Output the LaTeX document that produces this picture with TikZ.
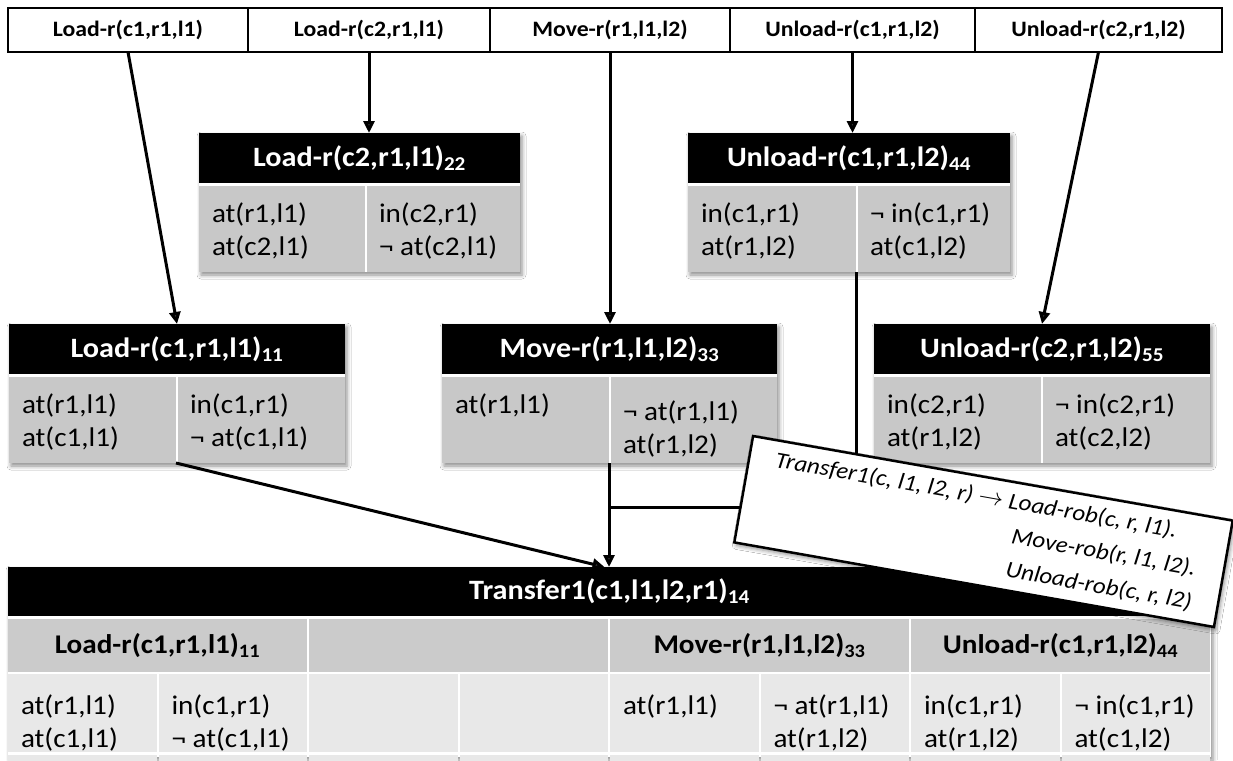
\documentclass[tikz,border=0pt]{standalone}
\usepackage{fontspec}
\setmainfont{Carlito}[FakeStretch=1.08]
\usetikzlibrary{arrows.meta,shadows.blur,calc}
\definecolor{cellgray}{RGB}{200,200,200}
\definecolor{subgray}{RGB}{203,203,203}
\definecolor{rowgray}{RGB}{232,232,232}
\newcommand\cellt[1]{\begin{tabular}[t]{@{}l@{}}#1\end{tabular}}
\tikzset{
  every node/.style={inner sep=0pt, outer sep=0pt},
  shad/.style={blur shadow={shadow xshift=2pt, shadow yshift=-3pt, shadow blur radius=4pt, shadow opacity=45}},
  topcell/.style={anchor=north west, draw=black, line width=1.8pt, fill=white, minimum height=44pt, font=\fontsize{22}{26}\selectfont\bfseries},
  hdr/.style={anchor=north west, fill=black, text=white, font=\fontsize{28}{34}\selectfont\bfseries},
  cellbox/.style={anchor=north west, fill=cellgray},
  subcell/.style={anchor=north west, fill=subgray, minimum height=53pt, font=\fontsize{27}{33}\selectfont\bfseries},
  rowcell/.style={anchor=north west, fill=rowgray, minimum height=78pt, minimum width=148.5pt},
  stripcell/.style={anchor=north west, fill=rowgray, minimum height=6pt, minimum width=148.5pt},
  bodytxt/.style={anchor=base west, font=\fontsize{27}{33}\selectfont},
  conn/.style={line width=3pt},
  arr/.style={conn, -{Triangle[length=12pt,width=11pt]}},
  note/.style={draw=black, line width=2.5pt, fill=white, shad, font=\fontsize{23}{34}\selectfont\itshape}
}
% action box: name, x1, x2, ytop, split, title, left, right, right offset
\newcommand\abox[9]{%
  \path[fill=white, shad] (#2,#4) rectangle (#3,{#4+139});
  \node[hdr, minimum width={(#3-#2)*1pt}, minimum height=50pt] (#1h) at (#2,#4) {#6};
  \node[cellbox, minimum width={(#5-#2-1)*1pt}, minimum height=86pt] (#1l) at (#2,{#4+53}) {};
  \node[cellbox, minimum width={(#3-#5-1)*1pt}, minimum height=86pt] (#1r) at ({#5+1},{#4+53}) {};
  \node[bodytxt] at ({#2+13},{#4+89}) {\cellt{#7}};
  \node[bodytxt] at ({#5+13},{#4+89+#9}) {\cellt{#8}};
}
\begin{document}
\begin{tikzpicture}[x=1pt,y=-1pt]
\useasboundingbox[fill=white] (0,0) rectangle (1233,760);

% top row
\node[topcell, minimum width=240pt] (t1) at (8,8) {Load-r(c1,r1,l1)};
\node[topcell, minimum width=242pt] (t2) at (248,8) {Load-r(c2,r1,l1)};
\node[topcell, minimum width=240pt] (t3) at (490,8) {Move-r(r1,l1,l2)};
\node[topcell, minimum width=245pt] (t4) at (730,8) {Unload-r(c1,r1,l2)};
\node[topcell, minimum width=247pt] (t5) at (975,8) {Unload-r(c2,r1,l2)};

% action boxes
\abox{b22}{199}{520}{133}{366}{Load-r(c2,r1,l1)\textsubscript{22}}{at(r1,l1)\\at(c2,l1)}{in(c2,r1)\\¬ at(c2,l1)}{0}
\abox{b44}{688}{1010}{133}{857}{Unload-r(c1,r1,l2)\textsubscript{44}}{in(c1,r1)\\at(r1,l2)}{¬ in(c1,r1)\\at(c1,l2)}{0}
\abox{b11}{9}{345}{324}{177}{Load-r(c1,r1,l1)\textsubscript{11}}{at(r1,l1)\\at(c1,l1)}{in(c1,r1)\\¬ at(c1,l1)}{0}
\abox{b33}{442}{777}{324}{610}{Move-r(r1,l1,l2)\textsubscript{33}}{at(r1,l1)}{¬ at(r1,l1)\\at(r1,l2)}{7}
\abox{b55}{874}{1210}{324}{1042}{Unload-r(c2,r1,l2)\textsubscript{55}}{in(c2,r1)\\at(r1,l2)}{¬ in(c2,r1)\\at(c2,l2)}{0}

% bottom table
\path[fill=white, shad] (8,567) rectangle (1211,757);
\node[hdr, minimum width=1203pt, minimum height=49pt] (T) at (8,567) {Transfer1(c1,l1,l2,r1)\textsubscript{14}};
\node[subcell, minimum width=299pt] (s1) at (8,619) {Load-r(c1,r1,l1)\textsubscript{11}};
\node[subcell, minimum width=299pt] (s2) at (309,619) {};
\node[subcell, minimum width=299pt] (s3) at (610,619) {Move-r(r1,l1,l2)\textsubscript{33}};
\node[subcell, minimum width=299pt] (s4) at (911,619) {Unload-r(c1,r1,l2)\textsubscript{44}};
\foreach \i in {0,...,7}{
  \node[rowcell] (r\i) at ({8+150.5*\i},674) {};
  \node[stripcell] (q\i) at ({8+150.5*\i},755) {};
}
\node[bodytxt] at (21,714) {\cellt{at(r1,l1)\\at(c1,l1)}};
\node[bodytxt] at (171.5,714) {\cellt{in(c1,r1)\\¬ at(c1,l1)}};
\node[bodytxt] at (623,714) {\cellt{at(r1,l1)}};
\node[bodytxt] at (773.5,714) {\cellt{¬ at(r1,l1)\\at(r1,l2)}};
\node[bodytxt] at (924,714) {\cellt{in(c1,r1)\\at(r1,l2)}};
\node[bodytxt] at (1074.5,714) {\cellt{¬ in(c1,r1)\\at(c1,l2)}};

% connectors
\draw[arr] (t1.south) -- (b11h.north);
\draw[arr] (t2.south) -- (t2.south |- b22h.north);
\draw[arr] (t3.south) -- (t3.south |- b33h.north);
\draw[arr] (t4.south) -- (t4.south |- b44h.north);
\draw[arr] (t5.south) -- (b55h.north);
\draw[arr] (b11l.south east) -- ([xshift=-5pt]T.north);
\draw[arr] (b33l.south east) -- (b33l.south east |- T.north);
\coordinate (j) at (609,507);
\draw[conn] (b44l.south east) |- (j);

% note
\node[note, rotate=-10, minimum width=487pt, minimum height=108pt] (nt) at (983.5,531.5)
 {\begin{tabular}{@{}l@{}}Transfer1(c, l1, l2, r) $\rightarrow$ Load-rob(c, r, l1).\\
 \hphantom{Transfer1(c, l1, l2, r) $\rightarrow$ }\hspace{9pt}Move-rob(r, l1, l2).\\
 \hphantom{Transfer1(c, l1, l2, r) $\rightarrow$ }\hspace{9pt}Unload-rob(c, r, l2)\end{tabular}};
\end{tikzpicture}
\end{document}
